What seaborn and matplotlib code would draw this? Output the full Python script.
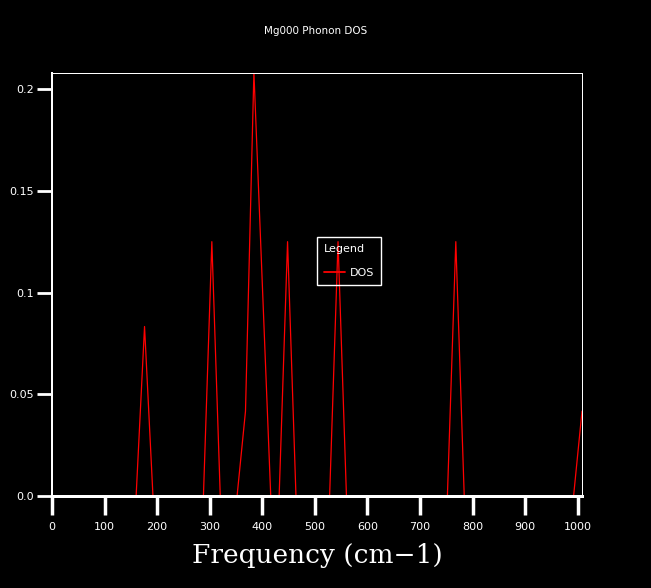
import matplotlib
matplotlib.use("Agg")
import matplotlib.pyplot as plt
import seaborn as sns
import pandas as pd

# Data (frequency in cm-1, DOS)
freq = [0, 160, 176, 192, 288, 304, 320, 352, 368, 384, 400, 416,
        432, 448, 464, 528, 544, 560, 752, 768, 784, 992, 1008]
dos = [0.0, 0.0, 0.0833, 0.0, 0.0, 0.125, 0.0, 0.0, 0.0417, 0.2083, 0.1042, 0.0,
       0.0, 0.125, 0.0, 0.0, 0.125, 0.0, 0.0, 0.125, 0.0, 0.0, 0.0417]
xticks = [0, 100, 200, 300, 400, 500, 600, 700, 800, 900, 1000]
yticks = [0.0, 0.05, 0.1, 0.15, 0.2]
yticklabels = ["0.0", "0.05", "0.1", "0.15", "0.2"]
title = "Mg000 Phonon DOS"
xlabel = "Frequency (cm\u22121)"
series_name = "DOS"

df = pd.DataFrame({"Frequency": freq, "DOS": dos, "series": series_name})

sns.set_theme(style="dark", rc={
    "axes.facecolor": "black",
    "figure.facecolor": "black",
    "axes.edgecolor": "white",
    "text.color": "white",
    "xtick.color": "white",
    "ytick.color": "white",
    "axes.grid": False,
})
plt.rcParams["font.family"] = ["DejaVu Sans"]

fig = plt.figure(figsize=(6.51, 5.88), dpi=100)
ax = fig.add_axes([52 / 651, 92 / 588, 530 / 651, 423 / 588])

sns.lineplot(data=df, x="Frequency", y="DOS", hue="series", palette=["red"],
             linewidth=0.9, ax=ax, legend=True)

ax.set_xlim(0, 1008)
ax.set_ylim(0, 0.2079)
ax.set_xticks(xticks)
ax.set_xticklabels([str(t) for t in xticks], fontsize=8, color="white")
ax.set_yticks(yticks)
ax.set_yticklabels(yticklabels, fontsize=8, color="white")
ax.tick_params(axis="x", direction="out", length=14, width=2.5, pad=5,
               colors="white", bottom=True)
ax.tick_params(axis="y", direction="out", length=11, width=2, pad=2,
               colors="white", left=True)

for side, w in [("left", 2), ("bottom", 3), ("top", 1), ("right", 1)]:
    ax.spines[side].set_visible(True)
    ax.spines[side].set_color("white")
    ax.spines[side].set_linewidth(w * 0.72)

ax.set_ylabel("")
ax.set_xlabel(xlabel, fontsize=19, family="DejaVu Serif", color="white",
              labelpad=8)

fig.text(316 / 651, 1 - 31 / 588, title, fontsize=7.5, color="white",
         ha="center", va="center")

handles, labels = ax.get_legend_handles_labels()
for h in handles:
    h.set_linewidth(1.3)
leg = ax.legend(handles, labels, title="Legend", loc="upper left",
                bbox_to_anchor=((317 - 52) / 530, (496 - 237) / 423),
                fontsize=8, title_fontsize=8, frameon=True, fancybox=False,
                facecolor="none", edgecolor="white", framealpha=1,
                handlelength=1.9, handletextpad=0.5, borderpad=0.6,
                labelspacing=1.3, borderaxespad=0)
leg._legend_box.align = "left"
leg.get_frame().set_linewidth(1)
for t in leg.get_texts():
    t.set_color("white")
leg.get_title().set_color("white")

fig.savefig("out.png", dpi=100, facecolor="black")
